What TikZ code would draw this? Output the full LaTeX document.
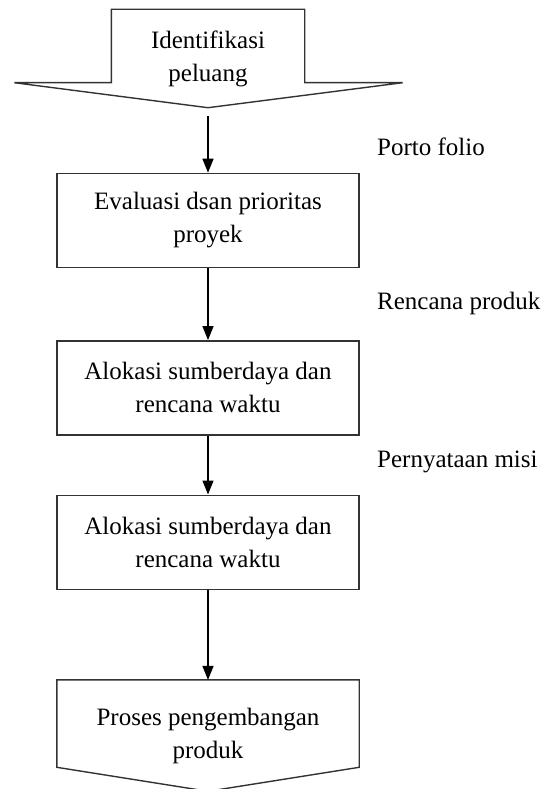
\documentclass[tikz,border=0pt]{standalone}
\usepackage{fontspec}
\setmainfont{Liberation Serif}
\usetikzlibrary{arrows.meta,positioning}

\begin{document}
\begin{tikzpicture}[
  x=1pt,y=-1pt,
  blk/.style={
    draw=black!80,
    line width=1.4pt,
    minimum width=302pt,
    minimum height=94pt,
    align=center,
    font=\fontsize{25}{33}\selectfont
  },
  edge/.style={draw=black!80,line width=1.4pt,line join=miter},
  lbl/.style={anchor=west,inner sep=0pt,font=\fontsize{25}{33}\selectfont},
  arr/.style={-{Triangle[width=11pt,length=14pt]},line width=1.4pt}
]
\useasboundingbox (0,0) rectangle (550,789);

% start and end shapes
\node[minimum width=193pt,minimum height=97pt,inner sep=0pt,align=center,
  font=\fontsize{25}{33}\selectfont] (ident) at (208,59) {Identifikasi\\peluang};
\draw[edge] (ident.south) -- ([xshift=98pt,yshift=25pt]ident.south east)
  -- ([yshift=25pt]ident.south east) -- ([yshift=1pt]ident.north east) -- ([yshift=1pt]ident.north west)
  -- ([yshift=25pt]ident.south west) -- ([xshift=-97pt,yshift=25pt]ident.south west) -- cycle;

\node[blk,below=65pt of ident] (eval) {Evaluasi dsan prioritas\\proyek};
\node[blk,below=72pt of eval] (alok1) {Alokasi sumberdaya dan\\rencana waktu};
\node[blk,below=59pt of alok1] (alok2) {Alokasi sumberdaya dan\\rencana waktu};

\node[minimum width=302pt,minimum height=111pt,inner sep=0pt,align=center,
  font=\fontsize{25}{33}\selectfont,below=90pt of alok2] (proses) {Proses pengembangan\\produk};
\draw[edge] (proses.north west) -- (proses.north east)
  -- ([yshift=24pt]proses.south east) -- (proses.south)
  -- ([yshift=24pt]proses.south west) -- cycle;

% side labels
\node[lbl] (porto) at (377,147) {Porto folio};
\node[lbl] (rencana) at (377,303) {Rencana produk};
\node[lbl] (misi) at (377,462) {Pernyataan misi};

\draw[arr,shorten <=8pt] (ident) -- (eval);
\draw[arr] (eval) -- (alok1);
\draw[arr] (alok1) -- (alok2);
\draw[arr] (alok2) -- (proses);
\end{tikzpicture}
\end{document}
